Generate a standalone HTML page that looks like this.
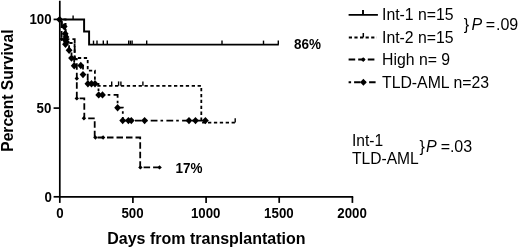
<!DOCTYPE html>
<html><head><meta charset="utf-8"><style>
html,body{margin:0;padding:0;background:#fff;}
svg{display:block;will-change:transform;}
text{font-family:"Liberation Sans",sans-serif;fill:#000;}
.b{font-weight:bold;}
</style></head><body>
<svg width="520" height="249" viewBox="0 0 520 249">
<g stroke="#000" stroke-width="1.7" fill="none">
<path d="M59.8,0.8V196.8H353.2"/>
<path d="M53.6,19.4H59.8"/>
<path d="M53.6,108.1H59.8"/>
<path d="M53.6,196.8H59.8"/>
<path d="M59.8,196.8V202.9"/>
<path d="M132.9,196.8V202.9"/>
<path d="M206.1,196.8V202.9"/>
<path d="M279.2,196.8V202.9"/>
<path d="M352.4,196.8V202.9"/>
</g>
<path d="M59.8,19.4H84.1V31.4H89.1V44.6H278.8" stroke="#000" stroke-width="1.95" fill="none"/>
<g stroke="#000" stroke-width="1.4"><path d="M73.1,19.4V15.4"/><path d="M93.5,44.6V40.6"/><path d="M97.0,44.6V40.6"/><path d="M103.3,44.6V40.6"/><path d="M107.3,44.6V40.6"/><path d="M128.7,44.6V40.6"/><path d="M130.4,44.6V40.6"/><path d="M132.1,44.6V40.6"/><path d="M146.7,44.6V40.6"/><path d="M222,44.6V40.6"/><path d="M263.5,44.6V40.6"/><path d="M278.3,44.6V40.6"/></g>
<path d="M59.8,19.4H65.6V31.2H66.8V43H74.6V58H87.7V70.6H94.9V85.8H201.3V122.6H235.2" stroke="#000" stroke-width="1.8" fill="none" stroke-dasharray="3.3 2.6" stroke-dashoffset="2.3"/>
<g stroke="#000" stroke-width="1.4"><path d="M111.7,85.8V81.4"/><path d="M118.6,85.8V81.4"/><path d="M120.9,85.8V81.4"/><path d="M142.9,85.8V81.4"/><path d="M235.2,122.6V118.2"/></g>
<path d="M59.8,19.4H61.6V39.1H74.7V58.8H76.8V98.4H84.3V118.3H94.7V137.5H140.2V167.4H160" stroke="#000" stroke-width="1.8" fill="none" stroke-dasharray="6.5 3" stroke-dashoffset="5.7"/>
<g fill="#000"><path d="M59.4,39.1L61.6,36.9L63.8,39.1L61.6,41.3Z"/><path d="M72.5,58.8L74.7,56.6L76.9,58.8L74.7,61.0Z"/><path d="M74.6,78.5L76.8,76.3L79.0,78.5L76.8,80.7Z"/><path d="M74.6,98.4L76.8,96.2L79.0,98.4L76.8,100.6Z"/><path d="M81.7,118.3L83.9,116.1L86.1,118.3L83.9,120.5Z"/><path d="M93.2,137.5L95.4,135.3L97.6,137.5L95.4,139.7Z"/><path d="M100.9,137.5L103.1,135.3L105.3,137.5L103.1,139.7Z"/><path d="M138.2,167.4L140.4,165.2L142.6,167.4L140.4,169.6Z"/><path d="M157.4,167.4L159.6,165.2L161.8,167.4L159.6,169.6Z"/></g>
<path d="M59.8,19.4H61.8V27.1H65.2V34.8H65.6V42.5H69.1V50.2H71.5V58.1H74.2V65.7H83V74.6H87.7V83.8H98.5V94.9H117.6V107.7H122.8V120.6H206.6" stroke="#000" stroke-width="1.8" fill="none" stroke-dasharray="6.8 3 2.6 3.3" stroke-dashoffset="12"/>
<g fill="#000"><path d="M56.1,19.6L59.6,16.0L63.1,19.6L59.6,23.2Z"/><path d="M60.8,26.6L64.2,22.9L67.6,26.6L64.2,30.3Z"/><path d="M61.8,33.7L65.2,30.0L68.6,33.7L65.2,37.4Z"/><path d="M62.6,37.0L66.0,33.3L69.4,37.0L66.0,40.7Z"/><path d="M61.9,40.0L65.3,36.3L68.7,40.0L65.3,43.7Z"/><path d="M63.1,42.0L66.5,38.3L69.9,42.0L66.5,45.7Z"/><path d="M62.1,44.3L65.5,40.6L68.9,44.3L65.5,48.0Z"/><path d="M65.7,50.2L69.1,46.5L72.5,50.2L69.1,53.9Z"/><path d="M68.1,58.1L71.5,54.4L74.9,58.1L71.5,61.8Z"/><path d="M70.8,65.7L74.2,62.0L77.6,65.7L74.2,69.4Z"/><path d="M77.4,65.5L80.8,61.8L84.2,65.5L80.8,69.2Z"/><path d="M79.6,74.6L83.0,70.9L86.4,74.6L83.0,78.3Z"/><path d="M84.5,83.8L87.9,80.1L91.3,83.8L87.9,87.5Z"/><path d="M88.1,83.8L91.5,80.1L94.9,83.8L91.5,87.5Z"/><path d="M91.6,83.8L95.0,80.1L98.4,83.8L95.0,87.5Z"/><path d="M95.3,94.9L98.7,91.2L102.1,94.9L98.7,98.6Z"/><path d="M99.1,94.9L102.5,91.2L105.9,94.9L102.5,98.6Z"/><path d="M114.2,107.7L117.6,104.0L121.0,107.7L117.6,111.4Z"/><path d="M119.3,120.6L122.7,116.9L126.1,120.6L122.7,124.3Z"/><path d="M125.0,120.6L128.4,116.9L131.8,120.6L128.4,124.3Z"/><path d="M127.9,120.6L131.3,116.9L134.7,120.6L131.3,124.3Z"/><path d="M141.2,120.6L144.6,116.9L148.0,120.6L144.6,124.3Z"/><path d="M185.6,120.6L189.0,116.9L192.4,120.6L189.0,124.3Z"/><path d="M192.1,120.6L195.5,116.9L198.9,120.6L195.5,124.3Z"/><path d="M202.0,120.6L205.4,116.9L208.8,120.6L205.4,124.3Z"/></g>
<path d="M348.6,14.9H377.9M363,14.9V10.1" stroke="#000" stroke-width="1.9" fill="none"/>
<path d="M348.8,37.4H376.9" stroke="#000" stroke-width="2" fill="none" stroke-dasharray="3.2 2.4"/><path d="M363.3,37.4V33" stroke="#000" stroke-width="1.5"/>
<path d="M348.6,59.6H376.6" stroke="#000" stroke-width="2" fill="none" stroke-dasharray="6.6 3"/><path d="M360.8,59.6L363.2,57.2L365.6,59.6L363.2,62.0Z"/>
<path d="M348.6,82.3H377.6" stroke="#000" stroke-width="2" fill="none" stroke-dasharray="2.5 3 6.5 3"/><g fill="#000"><path d="M360.1,82.3L363.4,78.8L366.7,82.3L363.4,85.8Z"/></g>

<g class="b" font-size="14">
<text transform="translate(51.6,24.4) scale(0.95,1)" text-anchor="end">100</text>
<text transform="translate(51.4,112.7) scale(0.95,1)" text-anchor="end">50</text>
<text transform="translate(51.8,201.7) scale(0.95,1)" text-anchor="end">0</text>
<text transform="translate(59.9,217.8) scale(0.95,1)" text-anchor="middle">0</text>
<text transform="translate(132.5,217.8) scale(0.95,1)" text-anchor="middle">500</text>
<text transform="translate(205.7,217.8) scale(0.95,1)" text-anchor="middle">1000</text>
<text transform="translate(278.9,217.8) scale(0.95,1)" text-anchor="middle">1500</text>
<text transform="translate(352.1,217.8) scale(0.95,1)" text-anchor="middle">2000</text>
</g>
<text x="206.4" y="244.3" text-anchor="middle" class="b" font-size="16">Days from transplantation</text>
<text transform="translate(12.7,90.6) rotate(-90)" text-anchor="middle" class="b" font-size="15.6">Percent Survival</text>
<text transform="translate(294,48.7) scale(0.93,1)" class="b" font-size="14.5">86%</text>
<text transform="translate(175.6,173.0) scale(0.93,1)" class="b" font-size="14.5">17%</text>
<text x="382" y="20.3" font-size="15.8">Int-1 n=15</text>
<text x="382" y="42.6" font-size="15.8">Int-2 n=15</text>
<text x="382" y="64.8" font-size="15.8">High n= 9</text>
<text x="382" y="87.9" font-size="15.8">TLD-AML n=23</text>
<text y="29.6" font-size="16"><tspan x="463.8">}</tspan><tspan x="471.5" font-style="italic">P</tspan><tspan x="485.7">=</tspan><tspan x="496">.09</tspan></text>
<text x="352" y="146.1" font-size="15.6">Int-1</text>
<text x="352" y="164.2" font-size="15.6">TLD-AML</text>
<text y="151.5" font-size="16"><tspan x="419.4">}</tspan><tspan x="425.9" font-style="italic">P</tspan><tspan x="440.8">=</tspan><tspan x="449.9">.03</tspan></text>

</svg>
</body></html>
